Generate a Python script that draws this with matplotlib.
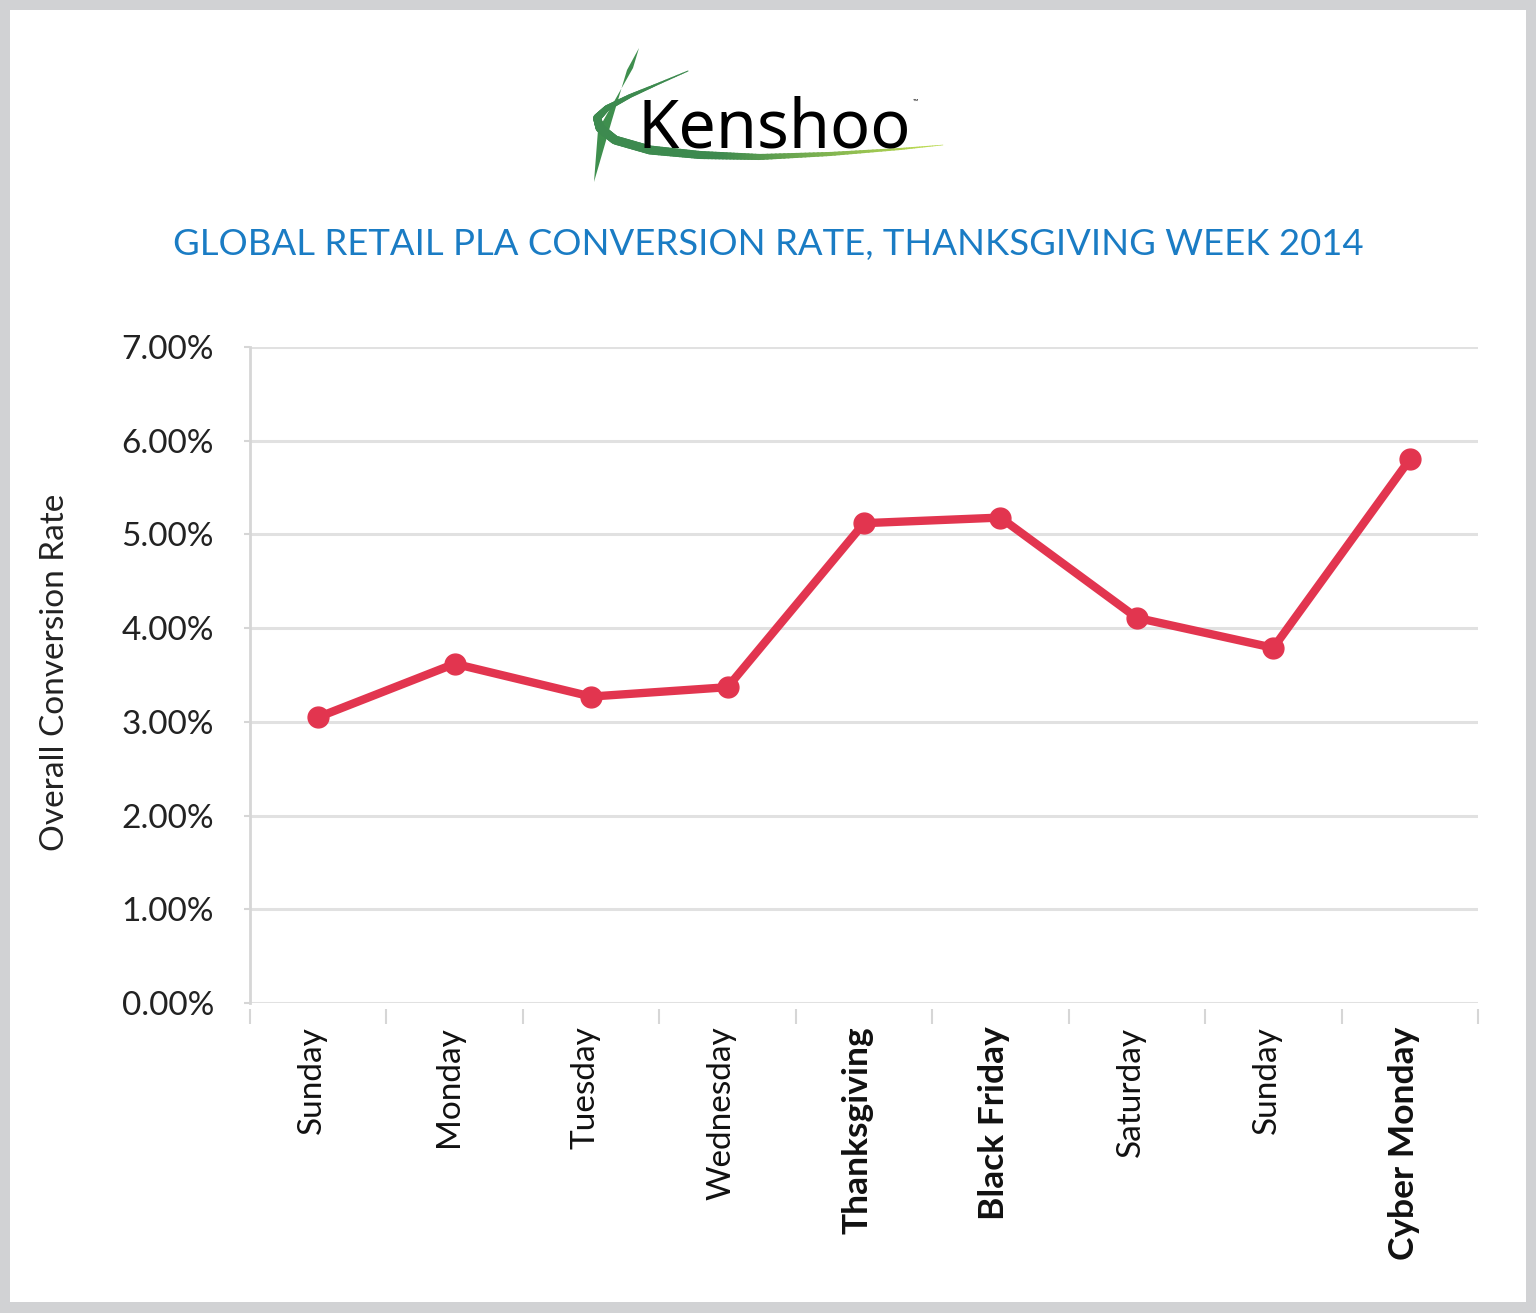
import matplotlib
matplotlib.use("Agg")
import matplotlib.pyplot as plt
import numpy as np
from matplotlib.patches import Rectangle, Polygon
from matplotlib.ticker import FixedLocator, FuncFormatter
from matplotlib.transforms import ScaledTranslation

plt.rcParams["font.family"] = ["Lato", "DejaVu Sans"]

# data
days = ["Sunday", "Monday", "Tuesday", "Wednesday", "Thanksgiving",
        "Black Friday", "Saturday", "Sunday", "Cyber Monday"]
bold_days = ["Thanksgiving", "Black Friday", "Cyber Monday"]
conversion_rate = [3.05, 3.62, 3.27, 3.37, 5.12, 5.18, 4.11, 3.79, 5.80]
y_ticks = [0, 1, 2, 3, 4, 5, 6, 7]

title = "GLOBAL RETAIL PLA CONVERSION RATE, THANKSGIVING WEEK 2014"
y_label = "Overall Conversion Rate"

W, H = 1536, 1313
LINE_RED = "#e2354f"
GRID = "#e1e1e1"
TITLE_BLUE = "#1a7cc4"


def fx(px):
    return px / W


def fy(py):
    return 1 - py / H


fig = plt.figure(figsize=(W / 100, H / 100), dpi=100)
fig.patch.set_facecolor("#d1d2d4")
fig.patches.append(Rectangle((fx(10), fy(1302)), fx(1516), 1292 / H,
                             transform=fig.transFigure, facecolor="white",
                             edgecolor="none", zorder=0))

# logo, drawn in pixel space
logo = fig.add_axes([0, 0, 1, 1], zorder=1)
logo.set_xlim(0, W)
logo.set_ylim(H, 0)
logo.axis("off")

blade = [(639, 48), (627, 70), (612, 120), (594, 182), (598, 130), (633, 68)]
logo.add_patch(Polygon(blade, closed=True, facecolor="#3f8f4e", edgecolor="none"))

cx = np.array([688, 660, 630, 607, 597, 600, 615, 650, 700, 760, 830, 900, 943])
cy = np.array([71, 83, 96, 108, 118, 128, 140, 150, 155, 157, 154, 149, 145])
cw = np.array([1, 2, 4, 6, 8, 9, 9, 9, 8, 6, 4, 2, 0.5])
t = np.linspace(0, 1, len(cx))
ts = np.linspace(0, 1, 200)
sx = np.interp(ts, t, cx)
sy = np.interp(ts, t, cy)
sw = np.interp(ts, t, cw)
dark = np.array([0.24, 0.54, 0.31])
light = np.array([0.73, 0.85, 0.32])
for i in range(len(ts) - 1):
    frac = np.clip((sx[i] - 720) / 200, 0, 1) if i > 60 else 0
    col = dark * (1 - frac) + light * frac
    logo.plot(sx[i:i + 2], sy[i:i + 2], color=col, lw=sw[i] * 0.72,
              solid_capstyle="round")

logo.text(638, 148, "Kenshoo", fontsize=48, color="black",
          ha="left", va="baseline", family=["Noto Sans", "DejaVu Sans"])
logo.text(913, 101, "\u2122", fontsize=5, color="black", ha="left", va="center")

# title and axis label
fig.text(fx(768), fy(244), title, ha="center", va="center",
         fontsize=26.3, color=TITLE_BLUE)
fig.text(fx(55), fy(672), y_label, ha="center", va="center",
         rotation=90, fontsize=24, color="#222222")

# chart
ax = fig.add_axes([fx(250), fy(1003), fx(1228), (1003 - 347) / H], zorder=2)
ax.patch.set_alpha(0)
x = np.arange(len(days))
ax.plot(x, conversion_rate, color=LINE_RED, lw=6, marker="o",
        markersize=15, clip_on=False, zorder=3)

ax.set_xlim(-0.5, len(days) - 0.5)
ax.set_ylim(0, 7)
ax.set_yticks(y_ticks)
ax.yaxis.set_major_formatter(FuncFormatter(lambda v, p: f"{v:.2f}%"))
ax.grid(axis="y", color=GRID, lw=2.2)
ax.set_axisbelow(True)

for s in ["top", "right"]:
    ax.spines[s].set_visible(False)
ax.spines["left"].set_color("#d6d6d6")
ax.spines["left"].set_linewidth(2)
ax.spines["bottom"].set_position(("outward", 4))
ax.spines["bottom"].set_color("none")

ax.tick_params(axis="y", length=4, width=1.5, color="#d6d6d6", pad=22,
               labelsize=24, labelcolor="#222222")
ax.set_xticks(x)
ax.set_xticklabels(days, rotation=90, va="top", ha="center")
ax.xaxis.set_minor_locator(FixedLocator(np.arange(-0.5, len(days), 1.0)))
ax.tick_params(axis="x", which="major", length=0, pad=13, labelsize=24,
               labelcolor="#111111")
ax.tick_params(axis="x", which="minor", length=11, width=1.5, color="#d6d6d6")
shift = ScaledTranslation(-6 / 100, 0, fig.dpi_scale_trans)
for lab in ax.get_xticklabels():
    lab.set_transform(lab.get_transform() + shift)
    if lab.get_text() in bold_days:
        lab.set_fontweight("bold")
        lab.set_fontsize(25.5)

fig.savefig("out.png", dpi=100, facecolor=fig.get_facecolor())
